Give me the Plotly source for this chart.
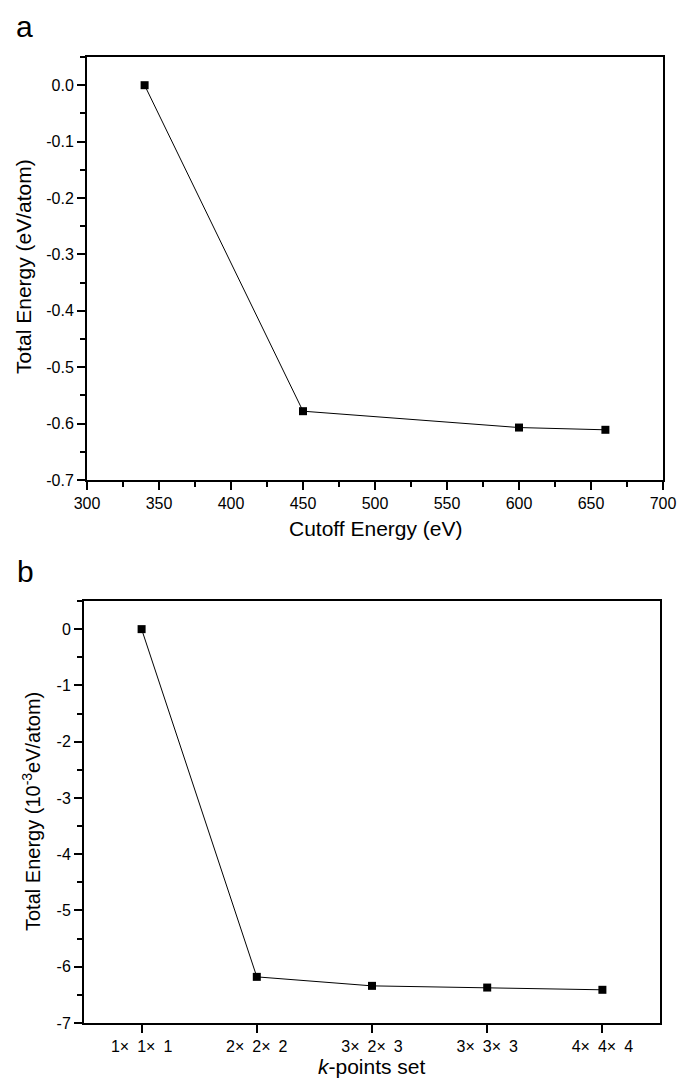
import plotly.graph_objects as go

W, H = 678, 1079

# Panel a data
cutoff_energy = [340, 450, 600, 660]
total_energy_a = [0.0, -0.578, -0.607, -0.611]
ya_tickvals = [0.0, -0.1, -0.2, -0.3, -0.4, -0.5, -0.6, -0.7]
xa_tickvals = [300, 350, 400, 450, 500, 550, 600, 650, 700]

# Panel b data
kpoint_labels = ["1×\u20021×\u20021", "2×\u20022×\u20022", "3×\u20022×\u20023", "3×\u20023×\u20023", "4×\u20024×\u20024"]
total_energy_b = [0.0, -6.18, -6.34, -6.37, -6.41]
yb_tickvals = [0, -1, -2, -3, -4, -5, -6, -7]

FONT = "Liberation Sans, Arial, sans-serif"


def px(x):
    return x / W


def py(y):
    return 1 - y / H


fig = go.Figure()
fig.add_trace(go.Scatter(
    x=cutoff_energy, y=total_energy_a, mode="lines+markers",
    line=dict(color="black", width=1),
    marker=dict(symbol="square", size=8, color="black"),
    xaxis="x", yaxis="y", showlegend=False))
fig.add_trace(go.Scatter(
    x=list(range(len(kpoint_labels))), y=total_energy_b, mode="lines+markers",
    line=dict(color="black", width=1),
    marker=dict(symbol="square", size=8, color="black"),
    xaxis="x2", yaxis="y2", showlegend=False))

axis_common = dict(showgrid=False, zeroline=False, showline=True, linecolor="black",
                   linewidth=2, mirror=True, ticks="outside", ticklen=8, tickwidth=1.5,
                   tickcolor="black", automargin=False,
                   tickfont=dict(family=FONT, size=16, color="black"))
minor_common = dict(ticks="outside", ticklen=5, tickwidth=1.5, tickcolor="black", tick0=0)

fig.update_layout(
    width=W, height=H, margin=dict(l=0, r=0, t=0, b=0, pad=0),
    paper_bgcolor="white", plot_bgcolor="white",
    font=dict(family=FONT, color="black"),
    xaxis=dict(domain=[px(87), px(663)], range=[300, 700], anchor="y",
               tickvals=xa_tickvals, ticktext=[str(v) for v in xa_tickvals],
               minor=dict(dtick=25, **minor_common), **axis_common),
    yaxis=dict(domain=[py(480), py(57)], range=[-0.7, 0.05], anchor="x",
               tickvals=ya_tickvals, ticktext=[f"{v:.1f}" for v in ya_tickvals],
               minor=dict(dtick=0.05, **minor_common), **axis_common),
    xaxis2=dict(domain=[px(84), px(660)], range=[-0.5, 4.5], anchor="y2",
                tickvals=list(range(len(kpoint_labels))),
                ticktext=kpoint_labels, **axis_common),
    yaxis2=dict(domain=[py(1023), py(601)], range=[-7, 0.5], anchor="x2",
                tickvals=yb_tickvals, ticktext=[str(v) for v in yb_tickvals],
                minor=dict(dtick=0.5, **minor_common), **axis_common),
)

ann = [
    dict(text="a", x=px(14), y=py(8), xanchor="left", yanchor="top", font=dict(size=30)),
    dict(text="b", x=px(15), y=py(553), xanchor="left", yanchor="top", font=dict(size=30)),
    dict(text="Cutoff Energy (eV)", x=px(376), y=py(529), xanchor="center", yanchor="middle", font=dict(size=21)),
    dict(text="Total Energy (eV/atom)", x=px(24), y=py(267), xanchor="center", yanchor="middle",
         textangle=-90, font=dict(size=21)),
    dict(text="<i>k</i>-points set", x=px(372), y=py(1066), xanchor="center", yanchor="middle", font=dict(size=21)),
    dict(text="Total Energy (10<sup>-3</sup>eV/atom)", x=px(31), y=py(812), xanchor="center", yanchor="middle",
         textangle=-90, font=dict(size=20)),
]
for a in ann:
    a.update(xref="paper", yref="paper", showarrow=False)
    a["font"] = dict(family=FONT, color="black", **a["font"])
fig.update_layout(annotations=ann)

fig.write_html("out.html")
